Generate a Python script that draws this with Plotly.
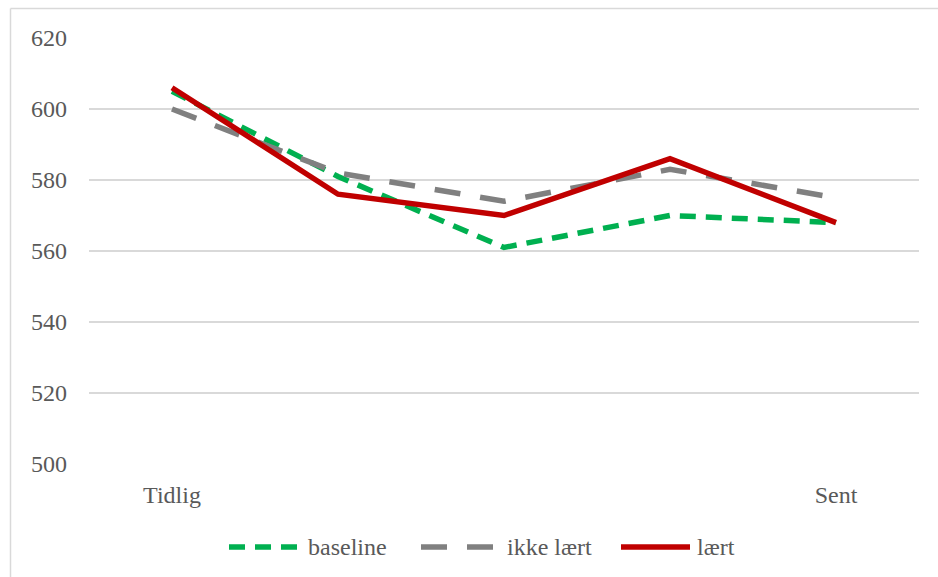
import plotly.graph_objects as go

# Measurement points along the x axis (only first and last are labelled)
points = [0, 1, 2, 3, 4]
tick_labels = ["Tidlig", "", "", "", "Sent"]

baseline = [605, 581, 561, 570, 568]
ikke_laert = [600, 582, 574, 583, 575]
laert = [606, 576, 570, 586, 568]

series_names = ["baseline", "ikke lært", "lært"]
series_colors = ["#00b050", "#808080", "#c00000"]
series_dash = ["16px,10px", "26px,20px", "solid"]

FONT = "Liberation Serif"
TEXT_COLOR = "#595959"

fig = go.Figure()
for name, vals, col, dash in zip(series_names, [baseline, ikke_laert, laert],
                                 series_colors, series_dash):
    fig.add_trace(go.Scatter(
        x=points, y=vals, mode="lines", name=name,
        line=dict(color=col, width=5.5, dash=dash),
        showlegend=False,
    ))

# plot area occupies x 89..919, y 38..464 of a 938x577 canvas
W, H = 938, 577
L, R, T, B = 89, 19, 38, 113
pw, ph = W - L - R, H - T - B

def px(x):
    return (x - L) / pw

def py(y):
    return (H - B - y) / ph

shapes = []
annotations = []

# chart frame (top and left edges)
shapes.append(dict(type="line", xref="paper", yref="paper",
                   x0=px(10.5), x1=px(940), y0=py(8.5), y1=py(8.5),
                   line=dict(color="#d9d9d9", width=1.5)))
shapes.append(dict(type="line", xref="paper", yref="paper",
                   x0=px(10.5), x1=px(10.5), y0=py(8.5), y1=py(580),
                   line=dict(color="#d9d9d9", width=1.5)))

# custom legend row
legend_y = 547
legend_items = [(229, 300, 306), (421, 500, 505), (621, 690, 695)]
for (x0, x1, xt), name, col, dash in zip(legend_items, series_names,
                                         series_colors, series_dash):
    shapes.append(dict(type="line", xref="paper", yref="paper",
                       x0=px(x0), x1=px(x1), y0=py(legend_y), y1=py(legend_y),
                       line=dict(color=col, width=5.5, dash=dash)))
    annotations.append(dict(xref="paper", yref="paper", x=px(xt), y=py(legend_y),
                            text=name, showarrow=False, xanchor="left",
                            yanchor="middle",
                            font=dict(family=FONT, size=24, color=TEXT_COLOR)))

fig.update_layout(
    width=W, height=H,
    margin=dict(l=L, r=R, t=T, b=B),
    paper_bgcolor="white", plot_bgcolor="white",
    font=dict(family=FONT, size=24, color=TEXT_COLOR),
    shapes=shapes, annotations=annotations,
    xaxis=dict(
        range=[-0.5, 4.5], tickmode="array", tickvals=points,
        ticktext=tick_labels, showgrid=False, zeroline=False,
        showline=False, ticks="", ticklabelstandoff=14,
    ),
    yaxis=dict(
        range=[500, 620], tickmode="array", tickvals=[500, 520, 540, 560, 580, 600, 620],
        showgrid=True, gridcolor="#d9d9d9", gridwidth=1.5, zeroline=False,
        showline=False, ticks="", ticklabelstandoff=21,
    ),
)

fig.write_html("out.html")
